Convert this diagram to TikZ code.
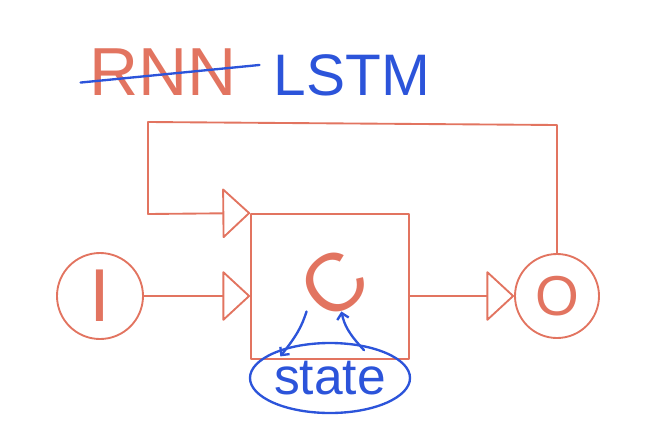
\documentclass[tikz,border=0pt]{standalone}
\usepackage{fontspec}
\setmainfont{Liberation Sans}
\usetikzlibrary{arrows.meta,shapes.geometric}
\definecolor{penorange}{RGB}{226,116,96}
\definecolor{penblue}{RGB}{44,84,218}
\tikzset{
  pen/.style={draw=penorange, line width=1.6pt, line cap=round, line join=round},
  bluepen/.style={draw=penblue, line width=2pt, line cap=round},
  flow/.style={pen, -{Triangle[open, length=24pt, width=44pt, round]}},
  loop/.style={bluepen, -{Straight Barb[length=5pt, width=10pt]}},
}

\begin{document}
\begin{tikzpicture}[x=0.03cm, y=-0.03cm]
  \useasboundingbox (0,0) rectangle (665,440);

  % Title
  \node[text=penorange, font=\fontsize{58}{58}\selectfont] (rnn) at (163,72) {RNN};
  \node[text=penblue, font=\fontsize{50}{50}\selectfont] (lstm) at (352,75) {LSTM};
  \draw[bluepen] ([shift={(-4pt,-9pt)}]rnn.west) -- ([shift={(16pt,6pt)}]rnn.east);

  % Input and output
  \node[pen, circle, minimum size=2.58cm, text=penorange, font=\fontsize{64}{64}\selectfont] (in) at (100,296) {I};
  \node[pen, circle, minimum size=2.52cm, text=penorange, font=\fontsize{48}{48}\selectfont] (out) at (557,296) {O};

  % Cell
  \node[pen, minimum width=4.74cm, minimum height=4.35cm] (cell) at (330,286.5) {};
  \node[text=penorange, font=\fontsize{70}{70}\selectfont, inner sep=-12pt] (c) at (334,284) {\rotatebox{40}{C}};
  \node[bluepen, ellipse, inner sep=0pt, minimum width=4.8cm, minimum height=2.1cm, text=penblue, font=\fontsize{44}{44}\selectfont] (state) at (330,378) {state};

  % Connectors
  \draw[flow] (in.east) -- (in.east -| cell.west);
  \draw[flow] (out.west -| cell.east) -- (out.west);
  \coordinate (top right) at (557,125);
  \coordinate (top left) at (148,122);
  \coordinate (back) at (148,214);
  \draw[flow] (out.north) -- (top right) -- (top left) -- (back) -- (cell.north west);

  % Memory
  \draw[loop, shorten >=-10pt] (c.225) to[bend left=10] (state.144);
  \draw[loop, shorten <=-7pt] (state.50) to[bend left=15] (c.285);
\end{tikzpicture}
\end{document}
